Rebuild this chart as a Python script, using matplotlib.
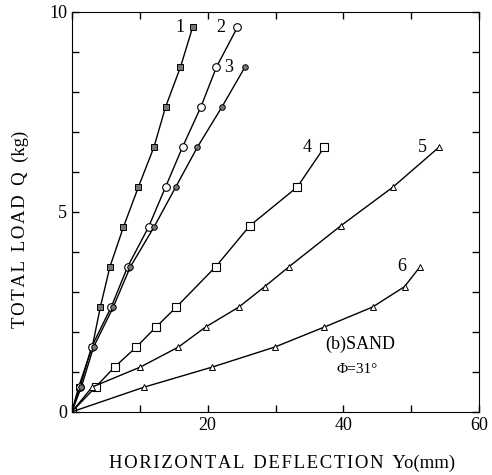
import numpy as np
import matplotlib.pyplot as plt

plt.rcParams['font.family'] = ['Liberation Serif', 'DejaVu Serif']

# load steps (kg)
q_full = [0, 0.62, 1.62, 2.62, 3.62, 4.62, 5.62, 6.62, 7.62, 8.62, 9.62]

x1 = [0, 1.0, 3.0, 4.2, 5.6, 7.6, 9.8, 12.1, 13.8, 16.0, 17.8]
y1 = q_full
x2 = [0, 1.2, 2.9, 5.8, 8.2, 11.3, 13.8, 16.3, 19.0, 21.3, 24.4]
y2 = q_full
x3 = [0, 1.4, 3.2, 6.1, 8.6, 12.1, 15.3, 18.5, 22.1, 25.5]
y3 = q_full[:-1]
x4 = [0, 3.5, 6.3, 9.5, 12.4, 15.4, 21.2, 26.2, 33.2, 37.2]
y4 = [0, 0.62, 1.12, 1.62, 2.12, 2.62, 3.63, 4.65, 5.62, 6.62]
x5 = [0, 3.0, 10.1, 15.7, 19.7, 24.6, 28.4, 32.0, 39.6, 47.3, 54.1]
y5 = [0, 0.62, 1.12, 1.62, 2.12, 2.62, 3.13, 3.63, 4.65, 5.62, 6.62]
x6 = [0, 10.7, 20.7, 29.9, 37.2, 44.3, 49.0, 51.3]
y6 = [0, 0.62, 1.12, 1.62, 2.12, 2.62, 3.13, 3.63]

labels = ['1', '2', '3', '4', '5', '6']
label_pos = [(15.9, 9.6), (21.9, 9.6), (23.1, 8.6), (34.7, 6.62), (51.6, 6.62), (48.6, 3.63)]


def spaced(s):
    # wide letter spacing like the scanned original
    return '\u200a'.join(s)


fig = plt.figure(figsize=(4.92, 4.75), dpi=100)
ax = fig.add_axes([0.146, 0.133, 0.828, 0.842])

ax.plot(x1, y1, color='black', lw=1, marker='s', ms=4, mfc='#777777', mec='black', mew=0.7)
ax.plot(x2, y2, color='black', lw=1, marker='o', ms=5.5, mfc='white', mec='black', mew=0.8)
ax.plot(x3, y3, color='black', lw=1, marker='o', ms=4, mfc='#777777', mec='black', mew=0.7)
ax.plot(x4, y4, color='black', lw=1, marker='s', ms=5.5, mfc='white', mec='black', mew=0.8)
ax.plot(x5, y5, color='black', lw=1, marker='^', ms=4, mfc='white', mec='black', mew=0.7)
ax.plot(x6, y6, color='black', lw=1, marker='^', ms=4, mfc='white', mec='black', mew=0.7)

for lab, (lx, ly) in zip(labels, label_pos):
    ax.text(lx, ly, lab, fontsize=13, ha='center', va='center')

ax.text(42.5, 1.68, '(b)SAND', fontsize=13, ha='center', va='center')
ax.text(42.0, 1.05, 'Φ=31°', fontsize=11, ha='center', va='center')

ax.set_xlim(0, 60)
ax.set_ylim(0, 10)
ax.set_xticks([0, 10, 20, 30, 40, 50, 60])
ax.set_xticklabels(['', '', '20', '', '40', '', '60'])
ax.set_yticks(range(11))
ax.set_yticklabels(['0', '', '', '', '', '5', '', '', '', '', '10'])
ax.tick_params(direction='in', top=True, right=True, length=5, width=1, labelsize=13)

ax.set_xlabel(spaced('HORIZONTAL') + '  ' + spaced('DEFLECTION') + '  Yo(mm)', fontsize=13.5)
ax.set_ylabel(spaced('TOTAL') + '  ' + spaced('LOAD') + '  Q  (kg)', fontsize=13.5)
ax.xaxis.set_label_coords(0.517, -0.108)
ax.yaxis.set_label_coords(-0.105, 0.455)

plt.savefig('out.png', dpi=100)
plt.close()
